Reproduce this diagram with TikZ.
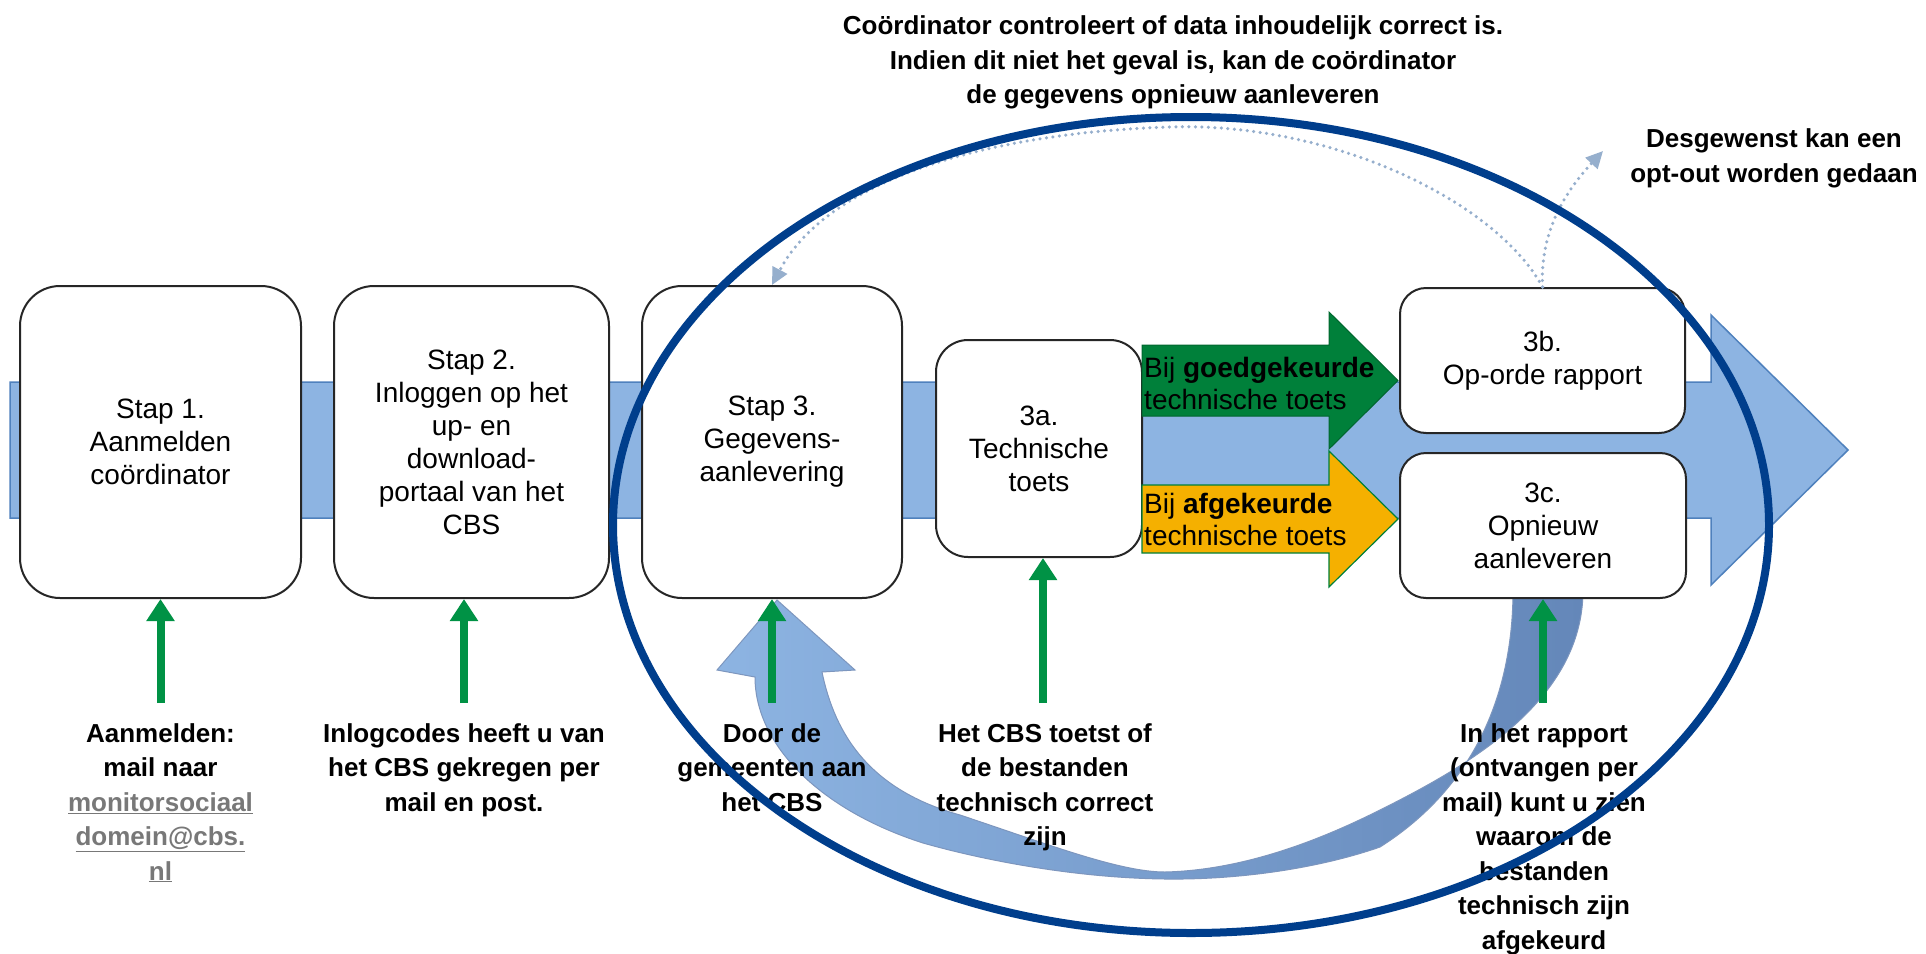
\documentclass[tikz,border=0pt]{standalone}
\usepackage{fontspec}
\setmainfont{Liberation Sans}
\usetikzlibrary{arrows.meta}
\definecolor{bandblue}{RGB}{141,180,226}
\definecolor{bandedge}{RGB}{79,129,189}
\definecolor{ellblue}{RGB}{0,62,140}
\definecolor{okgreen}{RGB}{0,128,58}
\definecolor{thingreen}{RGB}{0,146,69}
\definecolor{warnorange}{RGB}{245,176,0}
\definecolor{dotblue}{RGB}{150,175,205}
\definecolor{udark}{RGB}{100,135,185}
\definecolor{uedge}{RGB}{125,150,190}
\definecolor{linkgray}{RGB}{120,120,120}
\begin{document}
\begin{tikzpicture}[x=1pt,y=-1pt,
  box/.style={draw=black!85, line width=2pt, fill=white, rounded corners=#1,
    align=center, inner sep=0pt, font=\fontsize{28}{33}\selectfont},
  arrowtxt/.style={align=left, inner sep=0pt, font=\fontsize{28}{32}\selectfont},
  btxt/.style={align=center, inner sep=0pt, font=\fontsize{26}{34.5}\selectfont\bfseries},
  garrow/.style={thingreen, line width=8pt, -{Triangle[width=27pt,length=22pt]}},
  dotarrow/.style={dotblue, line width=3.5pt, line cap=round, dash pattern=on 0pt off 6.5pt,
    -{Triangle[width=16pt,length=17pt]}}
]
\useasboundingbox (0,0) rectangle (1926,953);
\fill[white] (0,0) rectangle (1926,953);

% main band with big arrow head
\fill[bandblue, draw=bandedge, line width=1.5pt]
  (10,382) -- (1711,382) -- (1711,315) -- (1848,450) -- (1711,585) -- (1711,518) -- (10,518) -- cycle;

% curved return arrow
\shade[left color=bandblue, middle color=bandblue, right color=udark, draw=uedge, line width=1pt]
  (777,600) -- (855,670) -- (822,672)
  .. controls (835,735) and (870,790) .. (960,815)
  .. controls (1050,845) and (1120,872) .. (1165,872)
  .. controls (1250,870) and (1330,835) .. (1380,810)
  .. controls (1470,765) and (1583,700) .. (1583,590)
  -- (1513,590)
  .. controls (1513,700) and (1470,790) .. (1380,847)
  .. controls (1320,868) and (1240,880) .. (1165,879)
  .. controls (1080,878) and (990,862) .. (923,843)
  .. controls (820,810) and (755,745) .. (755,677)
  -- (717,670) -- cycle;

% boxes
\node[box=40pt, minimum width=281pt, minimum height=312pt] (b1) at (160.5,442) {Stap 1.\\Aanmelden\\coördinator};
\node[box=40pt, minimum width=275pt, minimum height=312pt] (b2) at (471.5,442) {Stap 2.\\Inloggen op het\\up- en\\download-\\portaal van het\\CBS};
\node[box=40pt, minimum width=260pt, minimum height=312pt] (b3) at (772,442) {Stap 3.\\Gegevens-\\aanlevering};
\node[box=32pt, minimum width=206pt, minimum height=217pt] (b3a) at (1039,448.5) {3a.\\Technische\\toets};
\node[box=26pt, minimum width=285pt, minimum height=145pt] (b3b) at (1542.5,360.5) {3b.\\Op-orde rapport};
\node[box=26pt, minimum width=286pt, minimum height=145pt] (b3c) at (1543,525.5) {3c.\\Opnieuw\\aanleveren};

% green and orange arrows
\fill[okgreen, draw=okgreen!80!black, line width=1pt]
  (1142,345) -- (1329,345) -- (1329,312) -- (1398,380.5) -- (1329,449) -- (1329,416) -- (1142,416) -- cycle;
\fill[warnorange, draw=okgreen, line width=1.2pt]
  (1142,485) -- (1329,485) -- (1329,451) -- (1398,519) -- (1329,587) -- (1329,553) -- (1142,553) -- cycle;
\node[arrowtxt, anchor=north west] (gtxt) at (1144,357) {Bij \textbf{goedgekeurde}\\technische toets};
\node[arrowtxt, anchor=north west] (otxt) at (1144,493) {Bij \textbf{afgekeurde}\\technische toets};

% thin green arrows
\coordinate (g1) at (160.5,703);
\coordinate (g2) at (464,703);
\coordinate (g3) at (772,703);
\coordinate (g4) at (1043,703);
\coordinate (g5) at (1543,703);
\draw[garrow] (g1) -- (b1.south);
\draw[garrow] (g2) -- (g2 |- b2.south);
\draw[garrow] (g3) -- (b3.south);
\draw[garrow] (g4) -- (g4 |- b3a.south);
\draw[garrow] (g5) -- (b3c.south);

% dotted arrows
\coordinate (peak) at (1171,127);
\coordinate (optend) at (1603,151);
\draw[dotarrow] (b3b.north) .. controls (1495,200) and (1330,122) .. (peak)
  .. controls (1000,132) and (830,175) .. (b3.north);
\draw[dotarrow] (b3b.north) .. controls (1540,235) and (1562,195) .. (optend);

% texts
\node[btxt, anchor=north] (toptxt) at (1173,15.5) {Coördinator controleert of data inhoudelijk correct is.\\Indien dit niet het geval is, kan de coördinator\\de gegevens opnieuw aanleveren};
\node[btxt, anchor=north] (opttxt) at (1774,128.5) {Desgewenst kan een\\opt-out worden gedaan};

\node[btxt, anchor=north] (t1) at (160.5,723) {Aanmelden:\\mail naar\\\textcolor{linkgray}{\underline{monitorsociaal}}\\\textcolor{linkgray}{\underline{domein@cbs.}}\\\textcolor{linkgray}{\underline{nl}}};
\node[btxt, anchor=north] (t2) at (464,723) {Inlogcodes heeft u van\\het CBS gekregen per\\mail en post.};
\node[btxt, anchor=north] (t3) at (772,723) {Door de\\gemeenten aan\\het CBS};
\node[btxt, anchor=north] (t4) at (1045,723) {Het CBS toetst of\\de bestanden\\technisch correct\\zijn};
\node[btxt, anchor=north] (t5) at (1544,723) {In het rapport\\(ontvangen per\\mail) kunt u zien\\waarom de\\bestanden\\technisch zijn\\afgekeurd};

% ellipse
\draw[ellblue, line width=8pt] (1191,525) ellipse [x radius=578pt, y radius=408pt];
\end{tikzpicture}
\end{document}
